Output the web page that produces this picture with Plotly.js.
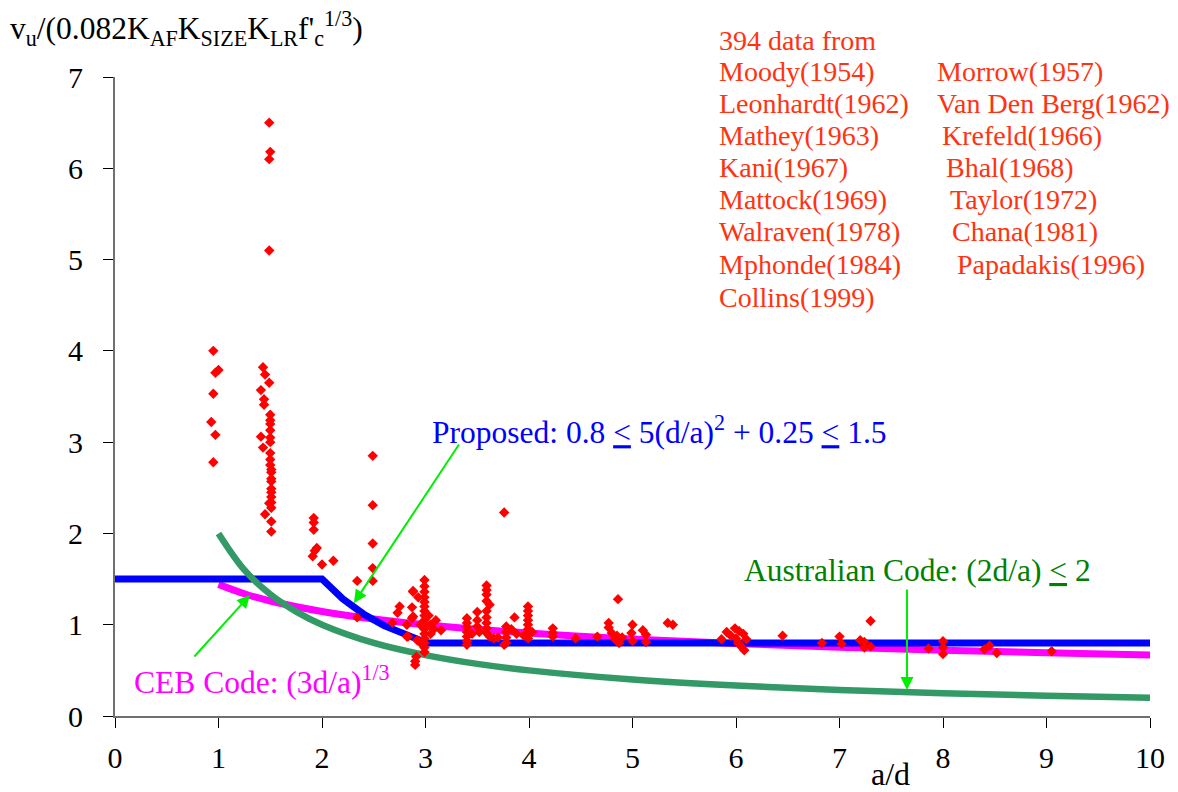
<!DOCTYPE html>
<html>
<head>
<meta charset="utf-8">
<script src="https://cdn.plot.ly/plotly-3.0.1.min.js"></script>
<style>html,body{margin:0;padding:0;background:#fff;}#chart{width:1178px;height:792px;}</style>
</head>
<body>
<div id="chart"></div>
<script>
// Test data (a/d, normalized shear strength)
var dataX = [
  0.95,0.97,1.0,0.95,0.93,0.97,0.95,
  1.49,1.5,1.49,1.49,1.43,1.45,1.49,1.41,1.44,1.44,1.5,1.5,1.5,1.5,1.5,1.41,1.43,1.5,1.5,1.5,1.5,1.51,1.51,1.51,1.51,1.51,1.51,1.51,1.49,1.51,1.45,1.51,1.51,1.51,
  1.92,1.92,1.92,1.95,1.93,1.91,2.0,2.11,
  2.49,2.49,2.49,2.49,2.49,2.34,2.34,
  2.75,2.73,2.88,2.93,2.87,2.87,2.68,2.82,2.83,2.92,2.91,2.88,2.88,2.82,2.9,2.9,
  2.99,2.99,2.99,2.99,2.99,2.99,2.99,2.99,2.99,2.99,2.99,2.99,2.99,2.99,2.99,2.99,
  3.1,3.15,3.05,3.05,3.08,2.95,2.97,3.03,
  3.4,3.4,3.4,3.4,3.4,3.4,3.4,3.45,3.5,3.5,3.5,3.52,
  3.59,3.59,3.59,3.59,3.62,3.59,3.59,3.59,3.59,3.59,3.62,3.66,
  3.76,3.78,3.78,3.78,3.78,3.76,3.86,3.83,3.88,3.7,
  3.99,3.99,3.99,3.99,3.99,3.99,3.99,3.99,3.95,4.03,
  4.23,4.23,4.23,4.45,4.66,4.86,4.77,4.77,4.8,4.85,4.83,4.87,4.9,
  5.0,4.99,5.0,5.1,5.13,5.13,5.34,5.39,
  5.86,5.91,5.99,5.95,6.0,6.02,6.05,6.08,6.07,6.1,6.03,
  6.45,6.83,7.0,7.02,7.2,7.24,7.24,7.3,7.3,7.86,8.0,8.0,8.0,8.4,8.45,8.52,9.05
];
var dataY = [
  4.0,3.76,3.79,3.53,3.22,3.08,2.78,
  6.5,6.18,6.1,5.1,3.82,3.74,3.65,3.57,3.47,3.41,3.3,3.24,3.2,3.13,3.05,3.06,2.94,3.0,2.88,2.81,2.75,2.7,2.67,2.6,2.57,2.49,2.45,2.4,2.33,2.34,2.21,2.28,2.13,2.02,
  2.17,2.12,2.04,1.84,1.81,1.75,1.66,1.7,
  2.85,2.31,1.89,1.62,1.48,1.48,1.08,
  1.2,1.13,1.36,1.3,1.19,1.07,1.02,1.0,0.87,0.83,0.65,1.37,1.09,0.87,0.6,0.56,
  1.49,1.42,1.36,1.3,1.25,1.2,1.15,1.1,1.05,1.0,0.95,0.9,0.85,0.8,0.75,0.7,
  1.05,0.94,1.0,0.9,0.95,1.0,0.78,1.1,
  1.07,1.02,0.97,0.92,0.87,0.82,0.78,0.9,1.14,1.05,0.98,0.92,
  1.43,1.38,1.33,1.26,1.22,1.15,1.08,1.02,0.96,0.91,0.87,0.85,
  2.23,0.98,0.92,0.86,0.8,0.78,1.08,0.95,0.9,0.86,
  1.2,1.15,1.1,1.05,1.0,0.95,0.9,0.85,0.88,0.92,
  0.96,0.91,0.87,0.85,0.87,1.28,1.02,0.97,0.91,0.88,0.84,0.8,0.86,
  1.0,0.91,0.82,0.94,0.89,0.81,1.02,1.0,
  0.84,0.92,0.96,0.88,0.85,0.8,0.76,0.72,0.9,0.84,0.93,
  0.88,0.8,0.87,0.79,0.83,0.81,0.75,0.76,1.04,0.74,0.82,0.75,0.68,0.73,0.77,0.69,0.71
];

// Proposed: 0.8 <= 5(d/a)^2 + 0.25 <= 1.5
var propX = [0, 2.0, 2.2, 2.4, 2.6, 2.8, 3.0, 3.04, 10];
var propY = [1.5, 1.5, 1.283, 1.118, 0.990, 0.888, 0.806, 0.8, 0.8];

// CEB Code: (3d/a)^(1/3)
var cebX = [1, 1.25, 1.5, 2, 2.5, 3, 4, 5, 6, 7, 8, 9, 10];
var cebY = [1.442, 1.339, 1.260, 1.145, 1.063, 1.0, 0.909, 0.843, 0.794, 0.754, 0.721, 0.693, 0.669];

// Australian Code: 2d/a <= 2
var ausX = [1, 1.25, 1.5, 1.75, 2, 2.5, 3, 3.5, 4, 5, 6, 7, 8, 9, 10];
var ausY = [2.0, 1.6, 1.333, 1.143, 1.0, 0.8, 0.667, 0.571, 0.5, 0.4, 0.333, 0.286, 0.25, 0.222, 0.2];

var xTicks = [0,1,2,3,4,5,6,7,8,9,10];
var yTicks = [0,1,2,3,4,5,6,7];

var sourcesLeft = ["Moody(1954)","Leonhardt(1962)","Mathey(1963)","Kani(1967)","Mattock(1969)","Walraven(1978)","Mphonde(1984)","Collins(1999)"];
var sourcesRight = ["Morrow(1957)","Van Den Berg(1962)","Krefeld(1966)","Bhal(1968)","Taylor(1972)","Chana(1981)","Papadakis(1996)"];

var FONT = "Liberation Serif, Times New Roman, serif";
var RED_TXT = "#FF3311";

var traces = [
  {x: cebX, y: cebY, mode: 'lines', line: {color: '#FF00FF', width: 7, shape: 'spline'}, hoverinfo: 'skip'},
  {x: propX, y: propY, mode: 'lines', line: {color: '#0000FF', width: 7}, hoverinfo: 'skip'},
  {x: ausX, y: ausY, mode: 'lines', line: {color: '#339966', width: 6.5, shape: 'spline'}, hoverinfo: 'skip'},
  {x: dataX, y: dataY, mode: 'markers', marker: {symbol: 'diamond', size: 8, color: '#FF0000'}, hoverinfo: 'skip'}
];

// layout helpers (pixel -> paper)
function px(p){ return (p - 115) / 1035; }
function py(p){ return (716 - p) / 639; }

var rowsY = [71, 103, 135, 167, 199, 232, 264, 297];
var rightX = [938, 938, 943, 947, 951, 953, 958];

var ann = [];
ann.push({xref:'paper', yref:'paper', x: px(8), y: py(28), xanchor:'left', yanchor:'middle', showarrow:false,
  text: "v<sub>u</sub>/(0.082K<sub>AF</sub>K<sub>SIZE</sub>K<sub>LR</sub>f'<sub>c</sub><sup>1/3</sup>)",
  font:{family:FONT, size:31.5, color:'#000'}});
ann.push({xref:'paper', yref:'paper', x: px(717), y: py(40), xanchor:'left', yanchor:'middle', showarrow:false,
  text: "394 data from", font:{family:FONT, size:28, color:RED_TXT}});
sourcesLeft.forEach(function(s, i){
  ann.push({xref:'paper', yref:'paper', x: px(717), y: py(rowsY[i]), xanchor:'left', yanchor:'middle', showarrow:false,
    text: s, font:{family:FONT, size:28, color:RED_TXT}});
});
sourcesRight.forEach(function(s, i){
  ann.push({xref:'paper', yref:'paper', x: px(rightX[i]-3), y: py(rowsY[i]), xanchor:'left', yanchor:'middle', showarrow:false,
    text: s, font:{family:FONT, size:28, color:RED_TXT}});
});
ann.push({xref:'paper', yref:'paper', x: px(430), y: py(430), xanchor:'left', yanchor:'middle', showarrow:false,
  text: "Proposed: 0.8 <u>&lt;</u> 5(d/a)<sup>2</sup> + 0.25 <u>&lt;</u> 1.5", font:{family:FONT, size:31.5, color:'#0000FF'}});
ann.push({xref:'paper', yref:'paper', x: px(742), y: py(570), xanchor:'left', yanchor:'middle', showarrow:false,
  text: "Australian Code: (2d/a) <u>&lt;</u> 2", font:{family:FONT, size:31.5, color:'#008000'}});
ann.push({xref:'paper', yref:'paper', x: px(132), y: py(680), xanchor:'left', yanchor:'middle', showarrow:false,
  text: "CEB Code: (3d/a)<sup>1/3</sup>", font:{family:FONT, size:31.5, color:'#FF00FF'}});
ann.push({xref:'paper', yref:'paper', x: px(890), y: py(774), xanchor:'center', yanchor:'middle', showarrow:false,
  text: "a/d", font:{family:FONT, size:32, color:'#000'}});

// arrows (head x,y ; tail ax,ay in data coordinates)
function arrow(hx, hy, tx, ty){
  return {xref:'x', yref:'y', axref:'x', ayref:'y', x:hx, y:hy, ax:tx, ay:ty, text:'',
    showarrow:true, arrowhead:2, arrowsize:1.3, arrowwidth:2, arrowcolor:'#00EE00', standoff:0, startstandoff:0};
}
ann.push(arrow(2.309, 1.238, 3.333, 2.99));
ann.push(arrow(1.304, 1.325, 0.754, 0.635));
ann.push(arrow(7.652, 0.285, 7.652, 1.402));

var layout = {
  width: 1178, height: 792,
  margin: {l:115, r:28, t:77, b:76},
  paper_bgcolor: '#fff', plot_bgcolor: '#fff',
  showlegend: false, hovermode: false,
  xaxis: {range:[0,10], tickvals:xTicks, ticktext:xTicks.map(String), ticks:'outside', ticklen:10, tickcolor:'#000', tickwidth:1,
    showgrid:false, zeroline:false, showline:true, linecolor:'#707070', linewidth:2,
    tickfont:{family:FONT, size:30, color:'#000'}, ticklabelstandoff:4},
  yaxis: {range:[0,7], tickvals:yTicks, ticktext:yTicks.map(String), ticks:'outside', ticklen:10, tickcolor:'#000', tickwidth:1,
    showgrid:false, zeroline:false, showline:true, linecolor:'#707070', linewidth:2,
    tickfont:{family:FONT, size:30, color:'#000'}, ticklabelstandoff:14},
  annotations: ann
};

Plotly.newPlot('chart', traces, layout, {displayModeBar:false, staticPlot:true});
</script>
</body>
</html>
